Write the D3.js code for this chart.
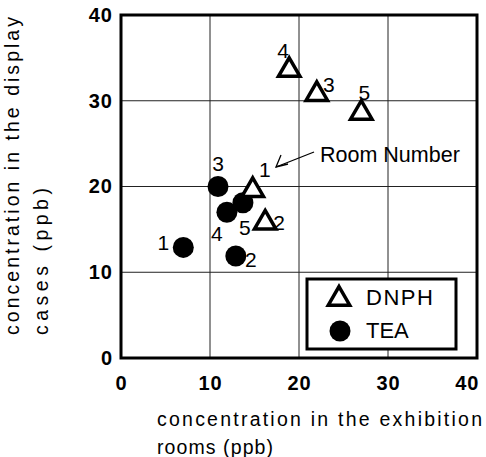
<!DOCTYPE html>
<html>
<head>
<meta charset="utf-8">
<script src="https://cdn.jsdelivr.net/npm/d3@7"></script>
<style>
 body { margin: 0; background: #fff; }
 text { font-family: Arial, "Liberation Sans", sans-serif; fill: #000; }
</style>
</head>
<body>
<div id="container"></div>
<script>
// values (ppb)
const rooms = [1, 2, 3, 4, 5]
const dnphRoom = [14.8, 16.2, 22, 18.9, 27]
const dnphCase = [19.8, 16, 31, 33.8, 28.8]
const teaRoom = [7, 12.9, 10.9, 11.9, 13.7]
const teaCase = [12.9, 11.9, 20, 17, 18.1]
const ticks = [0, 10, 20, 30, 40]

// label placement around markers (px)
const dnphLabelOff = { 1: [12, -11], 2: [14, 9], 3: [12, 0], 4: [-6, -10], 5: [3, -11] }
const teaLabelOff = { 1: [-20, 3], 2: [15, 11], 3: [0, -16], 4: [-10, 29], 5: [2, 32] }

const width = 486,
  height = 457,
  margin = { top: 15, right: 9, bottom: 99, left: 121 }

const xScale = d3.scaleLinear()
  .domain([0, 40])
  .range([margin.left, width - margin.right])

const yScale = d3.scaleLinear()
  .domain([0, 40])
  .range([height - margin.bottom, margin.top])

const svg = d3.select("#container")
  .append("svg")
  .attr("width", width)
  .attr("height", height)

// grid
svg.append("g")
  .selectAll("line")
  .data(ticks.slice(1, -1))
  .join("line")
  .attr("x1", d => xScale(d)).attr("x2", d => xScale(d))
  .attr("y1", yScale(0)).attr("y2", yScale(40))
  .attr("stroke", "#222").attr("stroke-width", 1)

svg.append("g")
  .selectAll("line")
  .data(ticks.slice(1, -1))
  .join("line")
  .attr("y1", d => yScale(d)).attr("y2", d => yScale(d))
  .attr("x1", xScale(0)).attr("x2", xScale(40))
  .attr("stroke", "#222").attr("stroke-width", 1)

// frame
svg.append("rect")
  .attr("x", xScale(0)).attr("y", yScale(40))
  .attr("width", xScale(40) - xScale(0))
  .attr("height", yScale(0) - yScale(40))
  .attr("fill", "none").attr("stroke", "#000").attr("stroke-width", 3)

// axes (labels only, the frame draws the lines)
const xAxis = d3.axisBottom(xScale).tickValues(ticks).tickSize(0).tickPadding(18)
svg.append("g")
  .attr("transform", `translate(0, ${yScale(0)})`)
  .call(xAxis)
  .call(g => g.select(".domain").remove())
  .selectAll("text")
  .attr("font-size", 20).attr("font-weight", "bold").attr("letter-spacing", 1)
  .attr("font-family", "Arial, 'Liberation Sans', sans-serif")
  // last label is pulled in so it stays inside the page
  .filter(d => d === 40)
  .attr("text-anchor", "end")
  .attr("x", 2)

const yAxis = d3.axisLeft(yScale).tickValues(ticks).tickSize(0).tickPadding(8)
svg.append("g")
  .attr("transform", `translate(${xScale(0)}, 0)`)
  .call(yAxis)
  .call(g => g.select(".domain").remove())
  .selectAll("text")
  .attr("font-size", 20).attr("font-weight", "bold").attr("letter-spacing", 1)
  .attr("font-family", "Arial, 'Liberation Sans', sans-serif")

// axis titles
const xt = svg.append("text").attr("font-size", 19.5)
xt.append("tspan").attr("x", 157).attr("y", 426)
  .attr("textLength", 325).attr("lengthAdjust", "spacing")
  .text("concentration in the exhibition")
xt.append("tspan").attr("x", 157).attr("y", 454)
  .attr("textLength", 116).attr("lengthAdjust", "spacing")
  .text("rooms (ppb)")

const yt = svg.append("text")
  .attr("font-size", 19.5)
  .attr("transform", "translate(0, 335) rotate(-90)")
yt.append("tspan").attr("x", 0).attr("y", 19)
  .attr("textLength", 318).attr("lengthAdjust", "spacing")
  .text("concentration in the display")
yt.append("tspan").attr("x", 0).attr("y", 48)
  .attr("textLength", 147).attr("lengthAdjust", "spacing")
  .text("cases (ppb)")

// markers
const triangle = d3.symbol().type(d3.symbolTriangle).size(200)

const dnph = rooms.map((r, i) => ({ room: r, x: dnphRoom[i], y: dnphCase[i] }))
const tea = rooms.map((r, i) => ({ room: r, x: teaRoom[i], y: teaCase[i] }))

svg.append("g")
  .selectAll("circle")
  .data(tea)
  .join("circle")
  .attr("cx", d => xScale(d.x))
  .attr("cy", d => yScale(d.y))
  .attr("r", 10.5)
  .attr("fill", "#000")

svg.append("g")
  .selectAll("path")
  .data(dnph)
  .join("path")
  .attr("transform", d => `translate(${xScale(d.x)}, ${yScale(d.y) + 2})`)
  .attr("d", triangle)
  .attr("fill", "#fff")
  .attr("stroke", "#000")
  .attr("stroke-width", 3.5)
  .attr("stroke-linejoin", "miter")

// room number labels
svg.append("g")
  .selectAll("text")
  .data(dnph)
  .join("text")
  .attr("x", d => xScale(d.x) + dnphLabelOff[d.room][0])
  .attr("y", d => yScale(d.y) + dnphLabelOff[d.room][1])
  .attr("text-anchor", "middle")
  .attr("font-size", 21)
  .text(d => d.room)

svg.append("g")
  .selectAll("text")
  .data(tea)
  .join("text")
  .attr("x", d => xScale(d.x) + teaLabelOff[d.room][0])
  .attr("y", d => yScale(d.y) + teaLabelOff[d.room][1])
  .attr("text-anchor", "middle")
  .attr("font-size", 21)
  .text(d => d.room)

// "Room Number" annotation
svg.append("text")
  .attr("x", 320).attr("y", 162)
  .attr("font-family", "'Times New Roman', 'Liberation Serif', serif")
  .attr("font-size", 21.5)
  .text("Room Number")

svg.append("line")
  .attr("x1", 314).attr("y1", 152)
  .attr("x2", 276).attr("y2", 167)
  .attr("stroke", "#000").attr("stroke-width", 1.3)
svg.append("path")
  .attr("d", "M281,155 L276,167 L288,164")
  .attr("fill", "none").attr("stroke", "#000").attr("stroke-width", 1.3)

// legend
const legend = svg.append("g")
legend.append("rect")
  .attr("x", 307).attr("y", 279).attr("width", 149).attr("height", 70)
  .attr("fill", "#fff").attr("stroke", "#000").attr("stroke-width", 3)

legend.append("path")
  .attr("transform", "translate(339, 299)")
  .attr("d", triangle)
  .attr("fill", "#fff").attr("stroke", "#000").attr("stroke-width", 3.5)
legend.append("text")
  .attr("x", 366).attr("y", 305)
  .attr("font-size", 22).attr("letter-spacing", 1.5)
  .text("DNPH")

legend.append("circle")
  .attr("cx", 340).attr("cy", 331).attr("r", 10.5).attr("fill", "#000")
legend.append("text")
  .attr("x", 366).attr("y", 338)
  .attr("font-size", 22)
  .text("TEA")
</script>
</body>
</html>
